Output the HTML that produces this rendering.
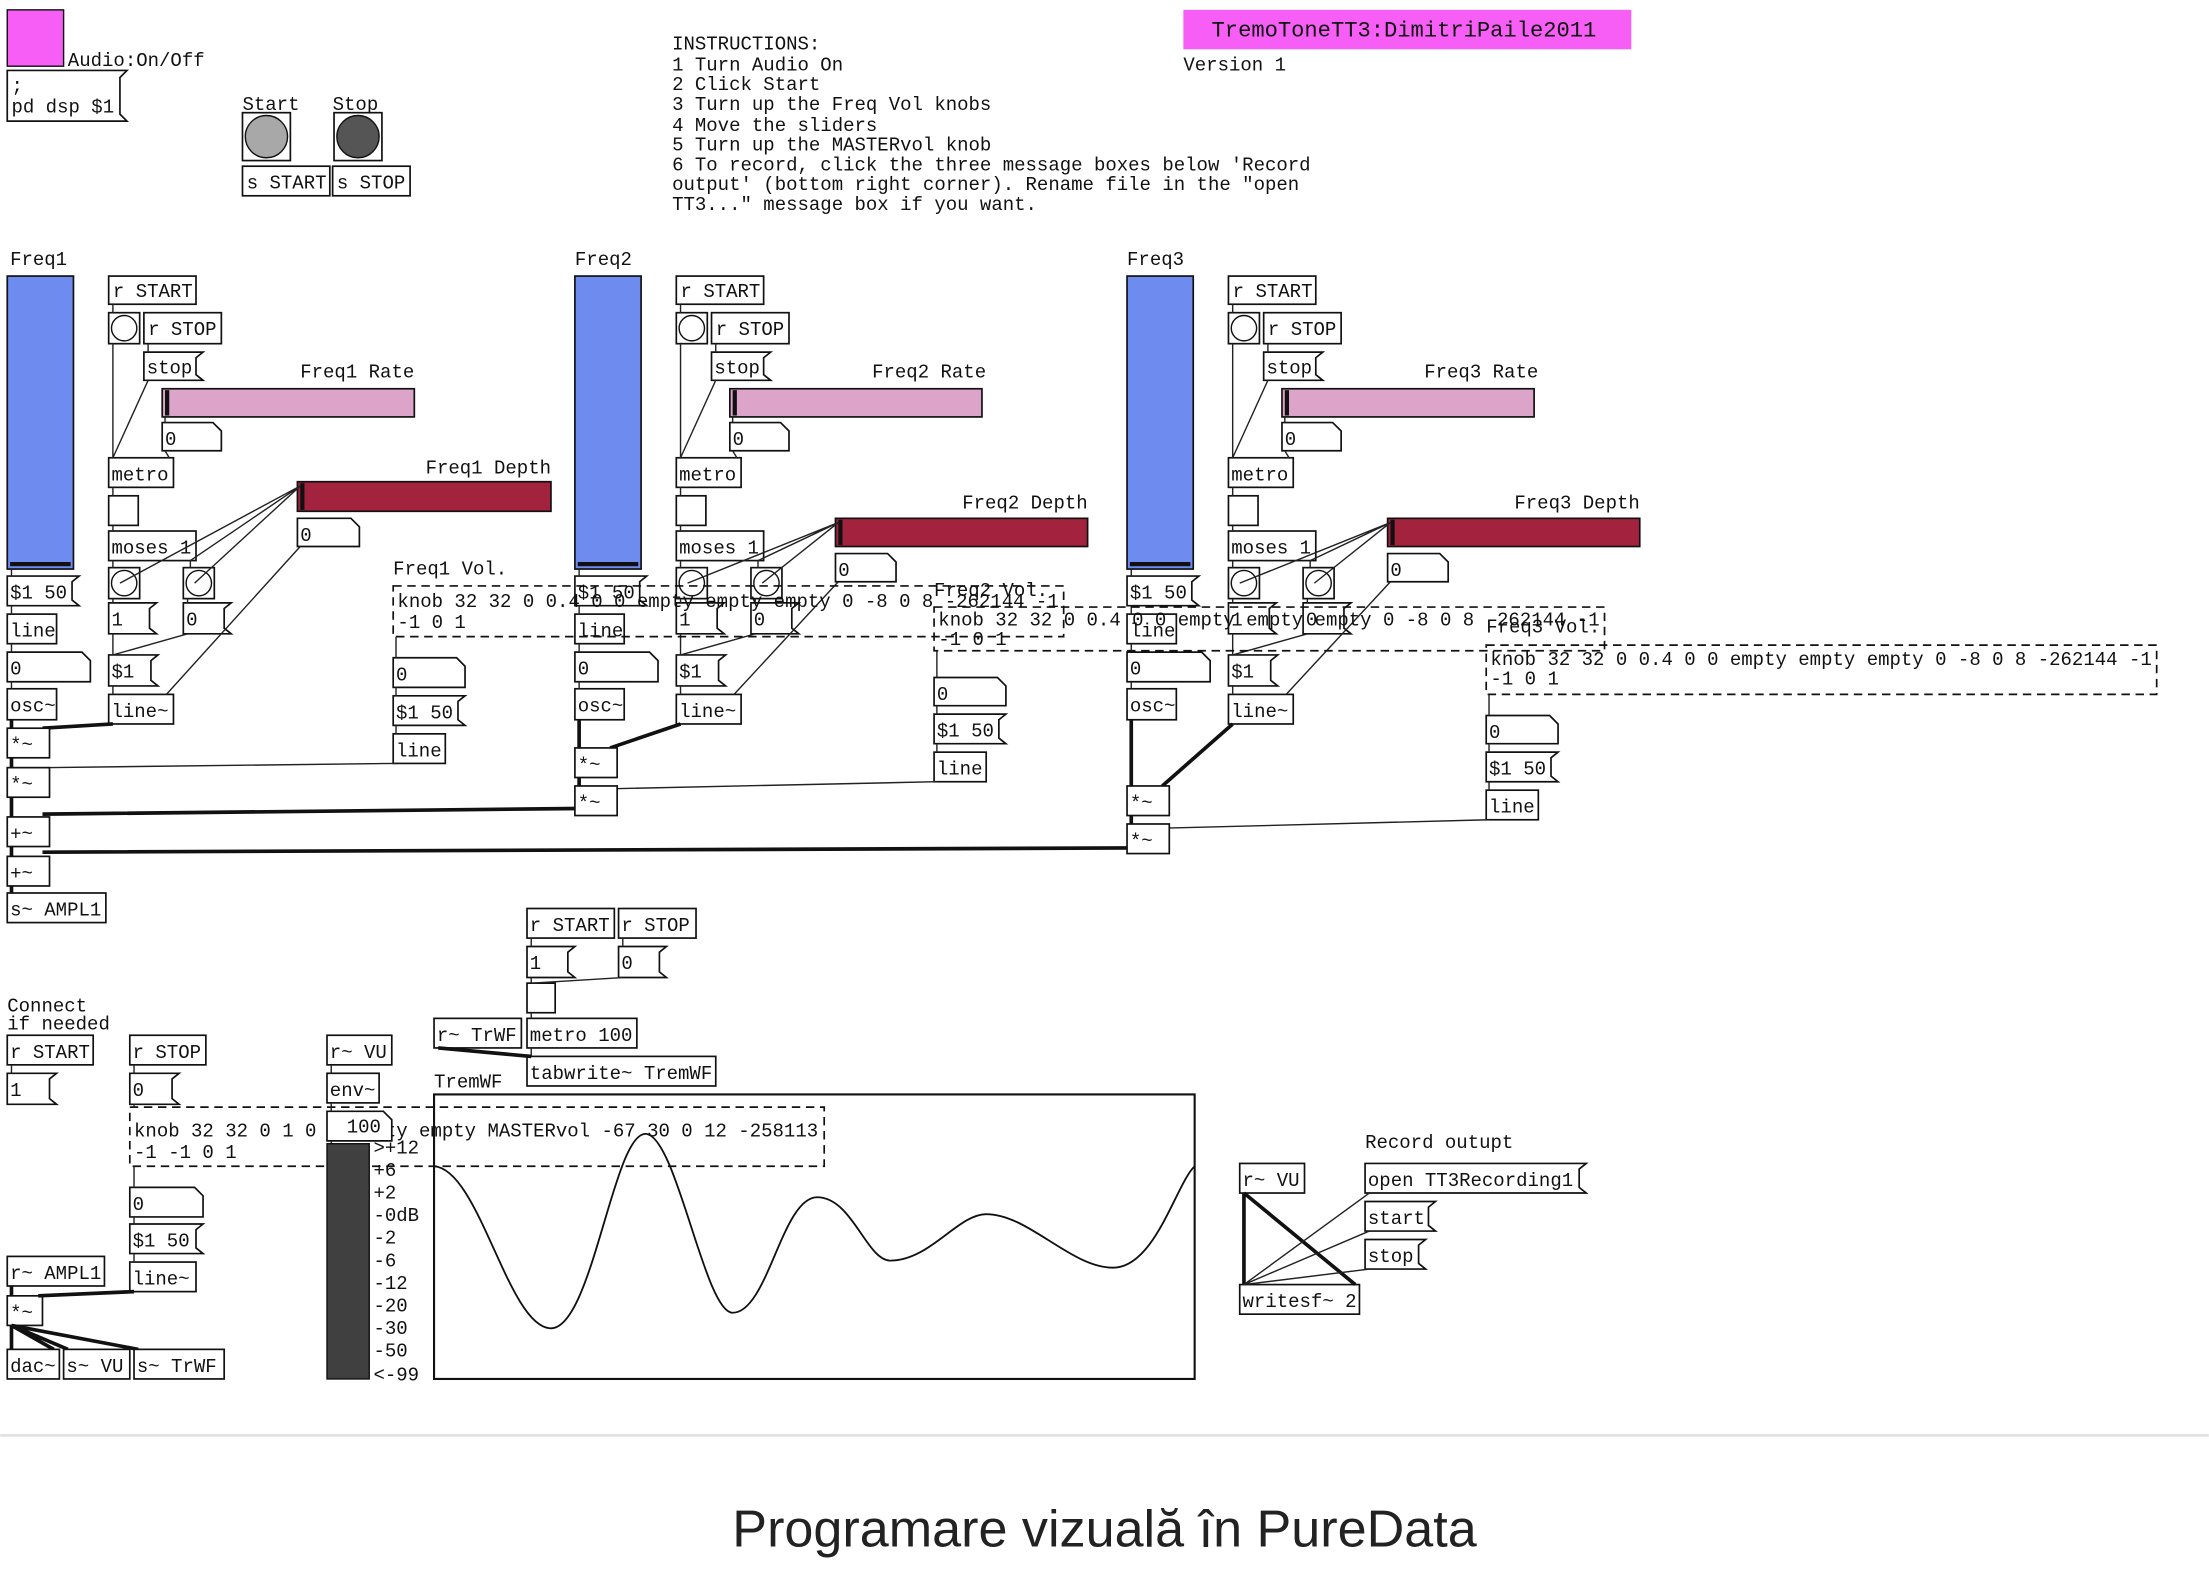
<!DOCTYPE html>
<html><head><meta charset="utf-8"><style>
html,body{margin:0;padding:0;background:#fff;}
svg{display:block;}
text{font-family:"Liberation Mono",monospace;font-size:13.5px;fill:#111;}
.b{fill:#fff;stroke:#111;stroke-width:1.2;}
.c{stroke:#222;stroke-width:1;fill:none;}
.t{stroke:#111;stroke-width:2.6;fill:none;}
.d{fill:none;stroke:#111;stroke-width:1.2;stroke-dasharray:6 4;}
.cap{font-family:"Liberation Sans",sans-serif;font-size:37px;fill:#222;}
</style></head><body>
<svg width="2209" height="1586" viewBox="0 0 1568 1126" xmlns="http://www.w3.org/2000/svg">
<!-- top -->
<rect x="5" y="7" width="40" height="40" fill="#f65ef6" stroke="#111"/>
<text x="48" y="47">Audio:On/Off</text>
<path class="b" d="M5 50H90L85 55V81L90 86H5Z"/>
<text x="8" y="65">;</text><text x="8" y="80">pd dsp $1</text>
<text x="172" y="78">Start</text><text x="236" y="78">Stop</text>
<rect class="b" x="172" y="80" width="34" height="34"/><circle cx="189" cy="97" r="15" fill="#a8a8a8" stroke="#111"/>
<rect class="b" x="237" y="80" width="34" height="34"/><circle cx="254" cy="97" r="15" fill="#555" stroke="#111"/>
<rect class="b" x="172" y="118" width="62" height="21"/><text x="175" y="134">s START</text>
<rect class="b" x="236" y="118" width="55" height="21"/><text x="239" y="134">s STOP</text>
<text x="477" y="35">INSTRUCTIONS:</text>
<text x="477" y="50">1 Turn Audio On</text>
<text x="477" y="64">2 Click Start</text>
<text x="477" y="78">3 Turn up the Freq Vol knobs</text>
<text x="477" y="93">4 Move the sliders</text>
<text x="477" y="107">5 Turn up the MASTERvol knob</text>
<text x="477" y="121">6 To record, click the three message boxes below 'Record</text>
<text x="477" y="135">output' (bottom right corner). Rename file in the "open</text>
<text x="477" y="149">TT3..." message box if you want.</text>
<rect x="840" y="7" width="318" height="28" fill="#f65ef6"/>
<text x="860" y="26" style="font-size:15.7px">TremoToneTT3:DimitriPaile2011</text>
<text x="840" y="50">Version 1</text>

<defs>
<g id="col">
<rect x="5" y="196" width="47" height="208" fill="#6e8cf0" stroke="#111" stroke-width="1.2"/>
<rect x="7" y="399" width="43" height="3" fill="#111"/>
<path class="b" d="M5 409H56L51 413V426L56 430H5Z"/><text x="7" y="425">$1 50</text>
<rect class="b" x="5" y="436" width="35" height="21"/><text x="7" y="452">line</text>
<path class="b" d="M5 463H58L64 469V484H5Z"/><text x="7" y="479">0</text>
<rect class="b" x="5" y="489" width="35" height="22"/><text x="7" y="505">osc~</text>
<path class="c" d="M8 404V409M8 430V436M8 457V463M8 484V489"/>
<rect class="b" x="77" y="196" width="62" height="20"/><text x="80" y="211">r START</text>
<rect class="b" x="77" y="222" width="22" height="22"/><circle cx="88" cy="233" r="9" fill="#fff" stroke="#111"/>
<rect class="b" x="102" y="222" width="55" height="22"/><text x="105" y="238">r STOP</text>
<path class="b" d="M102 250H144L139 254V266L144 270H102Z"/><text x="104" y="265">stop</text>
<rect x="115" y="276" width="179" height="20" fill="#dba4c8" stroke="#111" stroke-width="1.2"/>
<rect x="117" y="277" width="3" height="18" fill="#111"/>
<path class="b" d="M115 300H151L157 306V320H115Z"/><text x="117" y="316">0</text>
<rect class="b" x="77" y="325" width="46" height="21"/><text x="79" y="341">metro</text>
<rect class="b" x="77" y="352" width="21" height="21"/>
<rect class="b" x="77" y="377" width="62" height="21"/><text x="79" y="393">moses 1</text>
<rect class="b" x="77" y="403" width="22" height="22"/><circle cx="88" cy="414" r="9" fill="#fff" stroke="#111"/>
<rect class="b" x="130" y="403" width="22" height="22"/><circle cx="141" cy="414" r="9" fill="#fff" stroke="#111"/>
<path class="b" d="M77 428H111L106 432V446L111 450H77Z"/><text x="79" y="444">1</text>
<path class="b" d="M130 428H164L159 432V446L164 450H130Z"/><text x="132" y="444">0</text>
<path class="b" d="M77 465H112L107 469V483L112 487H77Z"/><text x="79" y="481">$1</text>
<rect class="b" x="77" y="493" width="46" height="21"/><text x="79" y="509">line~</text>
<path class="c" d="M80 216V222M80 244V325M105 244V250M105 270L80 325M117 296V300M117 320L120 325M80 346V352M80 373V377M80 398V403M135 398V403M80 425V428M133 425V428M80 450V465M133 450L80 465M80 487V493"/>
</g>
</defs>
<use href="#col"/>
<use href="#col" transform="translate(403,0)"/>
<use href="#col" transform="translate(795,0)"/>

<text x="7" y="188">Freq1</text><text x="408" y="188">Freq2</text><text x="800" y="188">Freq3</text>
<text x="213" y="268">Freq1 Rate</text><text x="619" y="268">Freq2 Rate</text><text x="1011" y="268">Freq3 Rate</text>

<text x="302" y="336">Freq1 Depth</text>
<rect x="211" y="342" width="180" height="21" fill="#a3233e" stroke="#111" stroke-width="1.2"/><rect x="213" y="343" width="3" height="19" fill="#111"/>
<path class="b" d="M211 368H249L255 374V388H211Z"/><text x="213" y="384">0</text>
<path class="c" d="M213 345L85 414M213 345L138 414M213 345L135 398M213 388L118 493"/>
<text x="683" y="361">Freq2 Depth</text>
<rect x="593" y="368" width="179" height="20" fill="#a3233e" stroke="#111" stroke-width="1.2"/><rect x="595" y="369" width="3" height="18" fill="#111"/>
<path class="b" d="M593 393H630L636 399V413H593Z"/><text x="595" y="409">0</text>
<path class="c" d="M595 371L488 414M595 371L541 414M595 371L538 398M595 413L521 493"/>
<text x="1075" y="361">Freq3 Depth</text>
<rect x="985" y="368" width="179" height="20" fill="#a3233e" stroke="#111" stroke-width="1.2"/><rect x="987" y="369" width="3" height="18" fill="#111"/>
<path class="b" d="M985 393H1022L1028 399V413H985Z"/><text x="987" y="409">0</text>
<path class="c" d="M987 371L880 414M987 371L933 414M987 371L930 398M987 413L913 493"/>

<text x="279" y="408">Freq1 Vol.</text>
<rect class="d" x="279" y="416" width="476" height="36"/>
<text x="282" y="431">knob 32 32 0 0.4 0 0 empty empty empty 0 -8 0 8 -262144 -1</text>
<text x="282" y="446">-1 0 1</text>
<path class="b" d="M279 467H324L330 473V488H279Z"/><text x="281" y="483">0</text>
<path class="b" d="M279 494H330L325 498V511L330 515H279Z"/><text x="281" y="510">$1 50</text>
<rect class="b" x="279" y="521" width="37" height="21"/><text x="281" y="537">line</text>
<path class="c" d="M281 452V467M281 488V494M281 515V521"/>
<text x="663" y="423">Freq2 Vol.</text>
<rect class="d" x="663" y="431" width="476" height="31"/>
<text x="666" y="444">knob 32 32 0 0.4 0 0 empty empty empty 0 -8 0 8 -262144 -1</text>
<text x="666" y="458">-1 0 1</text>
<path class="b" d="M663 481H708L714 487V501H663Z"/><text x="665" y="497">0</text>
<path class="b" d="M663 507H714L709 511V524L714 528H663Z"/><text x="665" y="523">$1 50</text>
<rect class="b" x="663" y="534" width="37" height="21"/><text x="665" y="550">line</text>
<path class="c" d="M665 462V481M665 501V507M665 528V534"/>
<text x="1055" y="449">Freq3 Vol.</text>
<rect class="d" x="1055" y="458" width="476" height="35"/>
<text x="1058" y="472">knob 32 32 0 0.4 0 0 empty empty empty 0 -8 0 8 -262144 -1</text>
<text x="1058" y="486">-1 0 1</text>
<path class="b" d="M1055 508H1100L1106 514V528H1055Z"/><text x="1057" y="524">0</text>
<path class="b" d="M1055 534H1106L1101 538V551L1106 555H1055Z"/><text x="1057" y="550">$1 50</text>
<rect class="b" x="1055" y="561" width="37" height="21"/><text x="1057" y="577">line</text>
<path class="c" d="M1057 493V508M1057 528V534M1057 555V561"/>

<path class="t" d="M8 511V517M80 514L30 517M8 538V545M8 566V580M410 574L30 578M8 601V608M802 602L30 605M8 629V634"/>
<path class="c" d="M281 542L30 545"/>
<rect class="b" x="5" y="517" width="30" height="21"/><text x="7" y="533">*~</text>
<rect class="b" x="5" y="545" width="30" height="21"/><text x="7" y="561">*~</text>
<rect class="b" x="5" y="580" width="30" height="21"/><text x="7" y="596">+~</text>
<rect class="b" x="5" y="608" width="30" height="21"/><text x="7" y="624">+~</text>
<rect class="b" x="5" y="634" width="70" height="21"/><text x="7" y="650">s~ AMPL1</text>

<path class="t" d="M411 511V531M483 514L433 531M411 552V558"/>
<path class="c" d="M665 555L433 560"/>
<rect class="b" x="408" y="531" width="30" height="21"/><text x="410" y="547">*~</text>
<rect class="b" x="408" y="558" width="30" height="21"/><text x="410" y="574">*~</text>

<path class="t" d="M803 511V558M875 514L825 558M803 579V585"/>
<path class="c" d="M1057 582L825 588"/>
<rect class="b" x="800" y="558" width="30" height="21"/><text x="802" y="574">*~</text>
<rect class="b" x="800" y="585" width="30" height="21"/><text x="802" y="601">*~</text>

<rect class="b" x="374" y="645" width="62" height="21"/><text x="376" y="661">r START</text>
<rect class="b" x="439" y="645" width="55" height="21"/><text x="441" y="661">r STOP</text>
<path class="b" d="M374 672H408L403 676V690L408 694H374Z"/><text x="376" y="688">1</text>
<path class="b" d="M439 672H473L468 676V690L473 694H439Z"/><text x="441" y="688">0</text>
<rect class="b" x="374" y="698" width="20" height="21"/>
<rect class="b" x="308" y="723" width="62" height="21"/><text x="310" y="739">r~ TrWF</text>
<rect class="b" x="374" y="723" width="78" height="21"/><text x="376" y="739">metro 100</text>
<rect class="b" x="374" y="750" width="134" height="21"/><text x="376" y="766">tabwrite~ TremWF</text>
<path class="c" d="M377 666V672M442 666V672M377 694V698M442 694L377 698M377 719V723M377 744V750"/>
<path class="t" d="M311 744L377 750"/>
<text x="308" y="772">TremWF</text>
<rect x="308" y="777" width="540" height="202" fill="none" stroke="#111" stroke-width="1.5"/>
<path d="M308 828C340 830 360 940 390 943C420 946 435 805 458 805C480 805 500 932 520 932C545 932 555 850 580 850C605 850 615 895 632 895C660 895 680 862 700 862C730 862 760 900 790 900C820 900 835 840 848 828" fill="none" stroke="#111" stroke-width="1.3"/>

<text x="5" y="718">Connect</text><text x="5" y="731">if needed</text>
<rect class="b" x="5" y="735" width="61" height="21"/><text x="7" y="751">r START</text>
<path class="b" d="M5 762H40L35 766V780L40 784H5Z"/><text x="7" y="778">1</text>
<rect class="b" x="92" y="735" width="54" height="21"/><text x="94" y="751">r STOP</text>
<path class="b" d="M92 762H127L122 766V780L127 784H92Z"/><text x="94" y="778">0</text>
<rect class="d" x="92" y="786" width="493" height="42"/>
<text x="95" y="807">knob 32 32 0 1 0 0 empty empty MASTERvol -67 30 0 12 -258113</text>
<text x="95" y="822">-1 -1 0 1</text>
<path class="b" d="M92 843H138L144 849V864H92Z"/><text x="94" y="859">0</text>
<path class="b" d="M92 869H144L139 873V886L144 890H92Z"/><text x="94" y="885">$1 50</text>
<rect class="b" x="92" y="896" width="47" height="21"/><text x="94" y="912">line~</text>
<path class="c" d="M8 756V762M95 756V762M95 784V786M95 828V843M95 864V869M95 890V896"/>
<rect class="b" x="5" y="892" width="69" height="21"/><text x="7" y="908">r~ AMPL1</text>
<rect class="b" x="5" y="920" width="25" height="21"/><text x="7" y="936">*~</text>
<path class="t" d="M8 913V920M95 917L27 920M8 941V958M8 941L38 958M8 941L48 958M8 941L98 958"/>
<rect class="b" x="5" y="958" width="37" height="21"/><text x="7" y="974">dac~</text>
<rect class="b" x="45" y="958" width="47" height="21"/><text x="47" y="974">s~ VU</text>
<rect class="b" x="95" y="958" width="64" height="21"/><text x="97" y="974">s~ TrWF</text>

<rect class="b" x="232" y="735" width="46" height="21"/><text x="234" y="751">r~ VU</text>
<rect class="b" x="232" y="762" width="37" height="21"/><text x="234" y="778">env~</text>
<path class="b" d="M232 789H272L278 795V810H232Z"/><text x="246" y="804">100</text>
<path class="c" d="M235 756V762M235 783V789M235 810V812"/>
<rect x="232" y="812" width="30" height="167" fill="#404040" stroke="#111"/>
<text x="265" y="819">&gt;+12</text><text x="265" y="835">+6</text><text x="265" y="851">+2</text><text x="265" y="867">-0dB</text><text x="265" y="883">-2</text><text x="265" y="899">-6</text><text x="265" y="915">-12</text><text x="265" y="931">-20</text><text x="265" y="947">-30</text><text x="265" y="963">-50</text><text x="265" y="980">&lt;-99</text>

<text x="969" y="815">Record outupt</text>
<rect class="b" x="880" y="826" width="46" height="21"/><text x="882" y="842">r~ VU</text>
<path class="b" d="M969 826H1126L1121 830V843L1126 847H969Z"/><text x="971" y="842">open TT3Recording1</text>
<path class="b" d="M969 853H1019L1014 857V870L1019 874H969Z"/><text x="971" y="869">start</text>
<path class="b" d="M969 880H1012L1007 884V897L1012 901H969Z"/><text x="971" y="896">stop</text>
<rect class="b" x="880" y="912" width="85" height="21"/><text x="882" y="928">writesf~ 2</text>
<path class="t" d="M883 847V912M883 847L962 912"/>
<path class="c" d="M972 847L883 912M972 874L883 912M972 901L883 912"/>

<line x1="0" y1="1019" x2="1568" y2="1019" stroke="#e2e2e2" stroke-width="2"/>
<text class="cap" x="784" y="1098" text-anchor="middle">Programare vizuală în PureData</text>
</svg>
</body></html>
